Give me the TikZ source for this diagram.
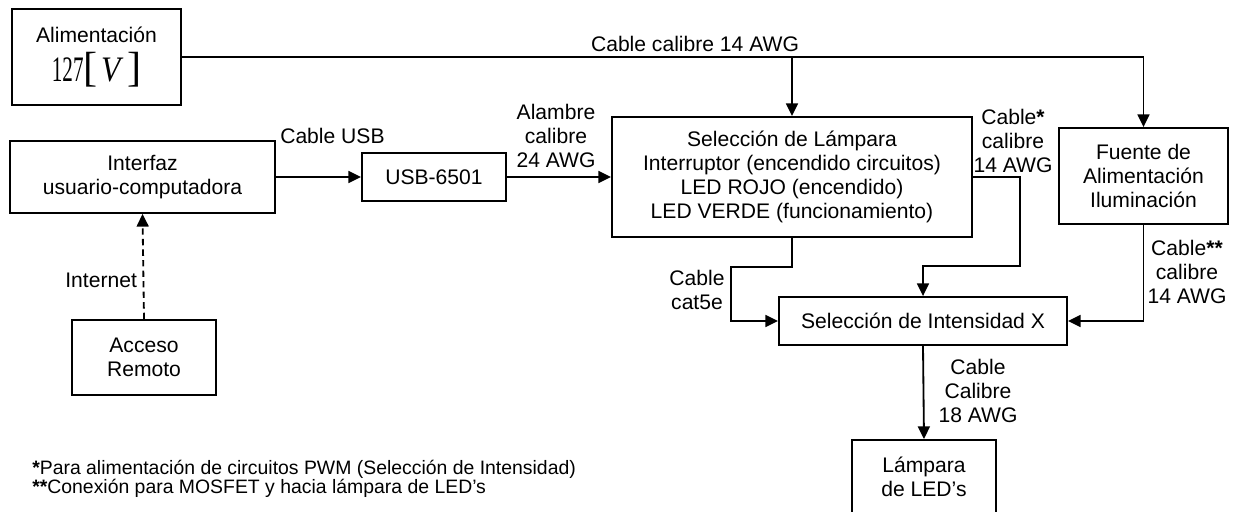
\documentclass[tikz,border=0pt]{standalone}
\usepackage{fontspec}
\setmainfont{Liberation Sans}
\newfontfamily\timesfont{Liberation Serif}
\usetikzlibrary{arrows.meta,calc}

\newcommand{\volts}{{\timesfont\fontsize{15}{15}\selectfont
  \scalebox{1}[1.7]{127}{\fontsize{30}{30}\selectfont[}\,\scalebox{1.5}[1.7]{\textit{V}}\,{\fontsize{30}{30}\selectfont]}}}

\begin{document}
\begin{tikzpicture}[
  x=0.025cm, y=-0.025cm,
  font=\fontsize{15}{17}\selectfont,
  blockbox/.style={
    draw=black, line width=1.3pt, align=center, inner sep=2pt
  },
  lbl/.style={align=center, inner sep=0pt},
  conn/.style={line width=1.3pt, -{Triangle[length=9pt,width=8.5pt]}},
  net/.style={conn, dash pattern=on 4.5pt off 3pt},
]
\clip (0,0) rectangle (1238,512);

%% Blocks
\node[blockbox, minimum width=4.225cm, minimum height=2.4cm] (alim) at (96.5,57)
  {Alimentación\\[6pt]\volts};
\node[blockbox, minimum width=6.625cm, minimum height=1.8cm] (interfaz) at (142.5,177)
  {Interfaz\\usuario-computadora};
\node[blockbox, minimum width=3.6cm, minimum height=1.875cm] (acceso) at (144,357.5)
  {Acceso\\Remoto};
\node[blockbox, minimum width=3.6cm, minimum height=1.2cm] (usb) at (434,177)
  {USB-6501};
\node[blockbox, minimum width=9cm, minimum height=3cm] (sel) at (792,177)
  {Selección de Lámpara\\Interruptor (encendido circuitos)\\LED ROJO (encendido)\\LED VERDE (funcionamiento)};
\node[blockbox, minimum width=4.225cm, minimum height=2.4cm] (fuente) at (1143.5,176)
  {Fuente de\\Alimentación\\Iluminación};
\node[blockbox, minimum width=7.2cm, minimum height=1.2cm] (inten) at (923,321)
  {Selección de Intensidad X};
\node[blockbox, minimum width=3.6cm, minimum height=1.85cm] (lamp) at (924,477)
  {Lámpara\\de LED’s};

%% Power line from the mains
\draw[conn] (alim.east) -| (fuente.north);
\draw[conn] (alim.east -| sel.north) -- (sel.north);

%% Control chain
\draw[conn] (interfaz) -- (usb);
\draw[conn] (usb) -- (sel);
\draw[net] (acceso.north) -- (interfaz.south)
  node[lbl, pos=0.37, anchor=east, xshift=-4pt] {Internet};

%% Towards the intensity block
\draw[conn] (sel.south) -- ++(0,29) -| ($(inten.west)+(-47,0)$) -- (inten.west);
\draw[conn] (sel.east) -- ++(47,0) |- ($(inten.north)+(0,-30)$) -- (inten.north);
\draw[conn] (fuente.south) |- (inten.east);
\draw[conn] (inten.south) -- (lamp.north);

%% Wire labels
\node[lbl] (l14)    at (695,44)   {Cable calibre 14 AWG};
\node[lbl, anchor=west] (lusb) at (280,136) {Cable USB};
\node[lbl] (l24)    at (556,136)  {Alambre\\calibre\\24 AWG};
\node[lbl] (lpwm)   at (1013,141) {Cable\textbf{*}\\calibre\\14 AWG};
\node[lbl] (lcat)   at (697,290)  {Cable\\cat5e};
\node[lbl] (lmos)   at (1187,272) {Cable\textbf{**}\\calibre\\14 AWG};
\node[lbl] (l18)    at (978,391)  {Cable\\Calibre\\18 AWG};

%% Notes
\node[lbl, anchor=west, align=left, font=\fontsize{13.8}{13.5}\selectfont] (notas) at (32,479)
  {\textbf{*}Para alimentación de circuitos PWM (Selección de Intensidad)\\
   \textbf{**}Conexión para MOSFET y hacia lámpara de LED’s};

\end{tikzpicture}
\end{document}
